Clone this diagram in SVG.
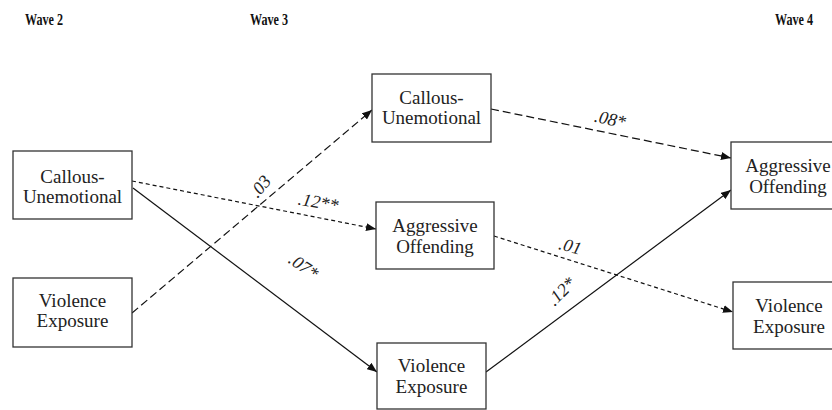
<svg xmlns="http://www.w3.org/2000/svg" width="832" height="410" viewBox="0 0 832 410">
<style>
.box{fill:#fff;stroke:#333;stroke-width:1.3}
.c{fill:none;stroke:#111;stroke-width:1.2}
.ld{stroke-dasharray:8 4}
.sd{stroke-dasharray:4 3}
</style>
<defs>
<marker id="arr" viewBox="0 0 10 8" refX="10" refY="4" markerWidth="10" markerHeight="8" markerUnits="userSpaceOnUse" orient="auto">
<path d="M0,0 L10,4 L0,8 Z" fill="#111"/>
</marker>
</defs>
<rect width="832" height="410" fill="#fff"/>
<g id="headers" font-family="'Liberation Serif', 'DejaVu Serif', serif" font-size="17" font-weight="bold" fill="#111">
<text x="25" y="25" textLength="38" lengthAdjust="spacingAndGlyphs">Wave 2</text>
<text x="250" y="25" textLength="38" lengthAdjust="spacingAndGlyphs">Wave 3</text>
<text x="775" y="25" textLength="38" lengthAdjust="spacingAndGlyphs">Wave 4</text>
</g>
<g id="connectors">
<line class="c" x1="133" y1="188" x2="377" y2="372" marker-end="url(#arr)"/>
<line class="c sd" x1="132" y1="181" x2="376" y2="229" marker-end="url(#arr)"/>
<line class="c ld" x1="132" y1="313" x2="372" y2="110" marker-end="url(#arr)"/>
<line class="c ld" x1="491" y1="109" x2="731" y2="158" marker-end="url(#arr)"/>
<line class="c sd" x1="494" y1="236" x2="733" y2="312" marker-end="url(#arr)"/>
<line class="c" x1="486" y1="372" x2="731" y2="190" marker-end="url(#arr)"/>
<g font-family="'Liberation Serif', 'DejaVu Serif', serif" font-size="18" font-style="italic" fill="#222" text-anchor="middle">
<text transform="translate(261,187) rotate(-50)" y="5">.03</text>
<text transform="translate(318,203) rotate(10)" y="5">.12**</text>
<text transform="translate(303,267) rotate(35)" y="5">.07*</text>
<text transform="translate(610,120) rotate(12)" y="5">.08*</text>
<text transform="translate(570,247) rotate(15)" y="5">.01</text>
<text transform="translate(562,292) rotate(-45)" y="5">.12*</text>
</g>
</g>
<g font-family="'Liberation Serif', 'DejaVu Serif', serif" font-size="19" fill="#222" text-anchor="middle">
<g id="cu2">
<rect class="box" x="13" y="151" width="119" height="68"/>
<text x="72.5" y="183">Callous-</text>
<text x="72.5" y="203">Unemotional</text>
</g>
<g id="ve2">
<rect class="box" x="13" y="278" width="119" height="69"/>
<text x="72.5" y="307">Violence</text>
<text x="72.5" y="327">Exposure</text>
</g>
<g id="cu3">
<rect class="box" x="372" y="74" width="119" height="68"/>
<text x="431.5" y="104">Callous-</text>
<text x="431.5" y="124">Unemotional</text>
</g>
<g id="ao3">
<rect class="box" x="376" y="202" width="118" height="67"/>
<text x="435" y="232">Aggressive</text>
<text x="435" y="253">Offending</text>
</g>
<g id="ve3">
<rect class="box" x="377" y="343" width="109" height="66"/>
<text x="431.5" y="372">Violence</text>
<text x="431.5" y="393">Exposure</text>
</g>
<g id="ao4">
<rect class="box" x="731" y="142" width="120" height="67"/>
<text x="788" y="172">Aggressive</text>
<text x="788" y="193">Offending</text>
</g>
<g id="ve4">
<rect class="box" x="733" y="282" width="114" height="67"/>
<text x="789" y="312">Violence</text>
<text x="789" y="333">Exposure</text>
</g>
</g>
</svg>
